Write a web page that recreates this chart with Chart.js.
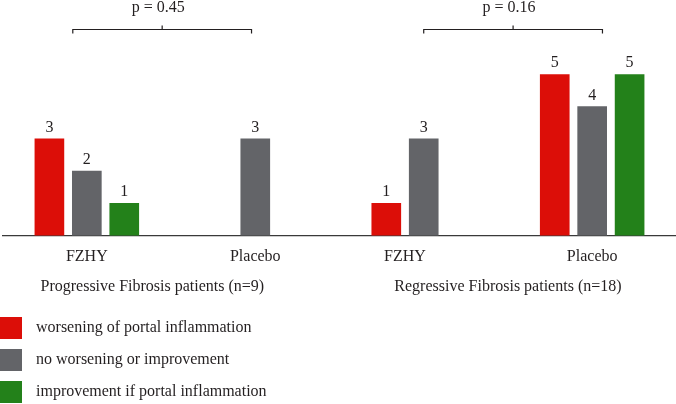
<!DOCTYPE html>
<html>
<head>
<meta charset="utf-8">
<script src="https://cdn.jsdelivr.net/npm/chart.js@4"></script>
<style>
  html, body { margin: 0; padding: 0; background: #fff; overflow: hidden; }
  #wrap { width: 679px; height: 404px; }
</style>
</head>
<body>
<div id="wrap"><canvas id="barChart" width="679" height="404"></canvas></div>
<script>
// data
const groups = ['FZHY', 'Placebo', 'FZHY', 'Placebo'];
const cohorts = ['Progressive Fibrosis patients (n=9)', 'Regressive Fibrosis patients (n=18)'];
const seriesNames = ['worsening of portal inflammation', 'no worsening or improvement', 'improvement if portal inflammation'];
const worsening   = [3, 0, 1, 5];
const noChange    = [2, 3, 3, 4];
const improvement = [1, 0, 0, 5];
const pLabels = ['p = 0.45', 'p = 0.16'];

// layout: the x axis is a row of narrow slots, groups sit on some of them
const SLOTS = 36;
const groupSlot = [4, 13, 21, 31];
const cohortSlot = [7.5, 26.5];
const bracketSlots = [[3.25, 12.8], [22, 31.55]];
const colors = ['#dc0e08', '#636468', '#23811a'];
const ink = '#231f20';
const FONT = '"Liberation Serif", "DejaVu Serif", serif';

const slotLabels = new Array(SLOTS).fill('');
groups.forEach((g, i) => { slotLabels[groupSlot[i]] = g; });

// put the non-zero bars of each group next to each other, centred on the group slot
const seriesVals = [worsening, noChange, improvement];
const slotData = seriesVals.map(() => new Array(SLOTS).fill(null));
groups.forEach((g, gi) => {
    const shown = seriesVals.map((s, si) => si).filter(si => seriesVals[si][gi] > 0);
    shown.forEach((si, k) => {
        const slot = groupSlot[gi] + 2 * k - (shown.length - 1);
        slotData[si][slot] = seriesVals[si][gi];
    });
});

const extras = {
    id: 'extras',
    afterDatasetsDraw(chart) {
        const ctx = chart.ctx;
        const x = chart.scales.x;
        ctx.save();
        ctx.fillStyle = ink;
        ctx.strokeStyle = ink;
        ctx.font = '16px ' + FONT;
        ctx.textAlign = 'center';
        ctx.textBaseline = 'alphabetic';

        // value labels above the bars
        chart.data.datasets.forEach((ds, di) => {
            chart.getDatasetMeta(di).data.forEach((el, i) => {
                if (ds.data[i] == null) return;
                ctx.fillText(String(ds.data[i]), el.x, el.y - 7);
            });
        });

        // brackets with p values
        ctx.lineWidth = 1.2;
        bracketSlots.forEach((b, i) => {
            const x1 = x.getPixelForValue(b[0]);
            const x2 = x.getPixelForValue(b[1]);
            const mid = (x1 + x2) / 2;
            const y = 29.5;
            ctx.beginPath();
            ctx.moveTo(x1, y + 4);
            ctx.lineTo(x1, y);
            ctx.lineTo(x2, y);
            ctx.lineTo(x2, y + 4);
            ctx.moveTo(mid, y);
            ctx.lineTo(mid, y - 4);
            ctx.stroke();
            ctx.fillText(pLabels[i], mid - 4, 12);
        });

        // cohort titles
        cohorts.forEach((c, i) => {
            ctx.fillText(c, x.getPixelForValue(cohortSlot[i]), 291);
        });

        // legend, one entry per row
        ctx.textAlign = 'left';
        ctx.textBaseline = 'middle';
        chart.data.datasets.forEach((ds, i) => {
            const top = 317 + i * 32;
            ctx.fillStyle = ds.backgroundColor;
            ctx.fillRect(0, top, 22, 22);
            ctx.fillStyle = ink;
            ctx.fillText(ds.label, 36, top + 11);
        });
        ctx.restore();
    }
};

new Chart(document.getElementById('barChart'), {
    type: 'bar',
    data: {
        labels: slotLabels,
        datasets: seriesNames.map((name, i) => ({
            label: name,
            data: slotData[i],
            backgroundColor: colors[i],
            barThickness: 29,
            grouped: false
        }))
    },
    options: {
        responsive: false,
        animation: false,
        layout: { padding: { top: 10, left: 0, right: 0, bottom: 0 } },
        plugins: {
            legend: { display: false },
            tooltip: { enabled: false }
        },
        scales: {
            x: {
                offset: true,
                grid: { display: false, drawTicks: false },
                border: { display: true, color: '#3a3a3a', width: 1.2 },
                ticks: {
                    autoSkip: false, maxRotation: 0, padding: 12,
                    color: ink, font: { family: FONT, size: 16 }
                },
                afterFit: (scale) => { scale.height = 168.4; }
            },
            y: { display: false, min: 0, max: 7 }
        }
    },
    plugins: [extras]
});
</script>
</body>
</html>
